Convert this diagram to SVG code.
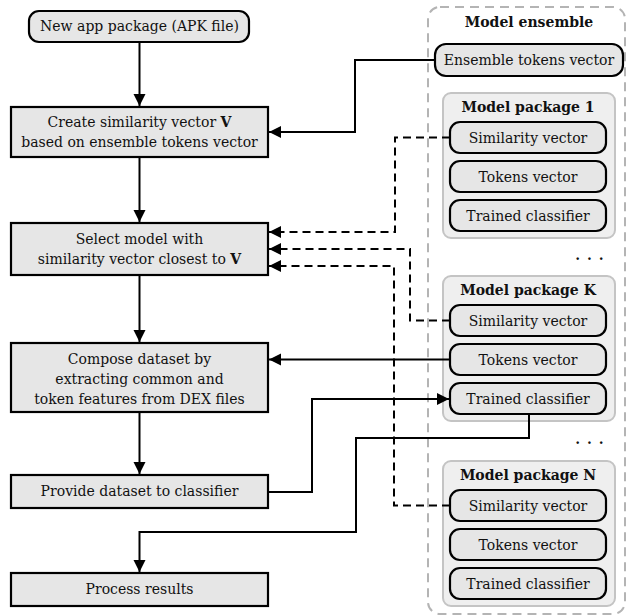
<svg xmlns="http://www.w3.org/2000/svg" width="627" height="616" viewBox="0 0 627 616">
<defs>
<marker id="ah" markerUnits="userSpaceOnUse" markerWidth="14" markerHeight="14" refX="12" refY="6" orient="auto">
<path d="M0,0 L12,6 L0,12 Z" fill="#000" stroke="none"/>
</marker>
<style>
.step{fill:#e6e6e6;stroke:#000;stroke-width:2.2}
.node{fill:#e6e6e6;stroke:#000;stroke-width:2.2}
.pkg{fill:#efefef;stroke:#c4c4c4;stroke-width:2}
.ens{fill:none;stroke:#b4b4b4;stroke-width:2;stroke-dasharray:9 6}
text{font-family:"DejaVu Serif","Liberation Serif",serif;font-size:14px;fill:#111;text-anchor:middle}
.b{font-weight:bold}
.c{fill:none;stroke:#000;stroke-width:2}
.d{fill:none;stroke:#000;stroke-width:2;stroke-dasharray:8 5}
.dots{font-size:14px;font-weight:bold;letter-spacing:1px}
</style>
</defs>
<rect width="627" height="616" fill="#fff"/>

<g id="ensemble">
<rect class="ens" x="428" y="7" width="197" height="607" rx="12"/>
<text class="b" x="529" y="27">Model ensemble</text>
</g>
<g id="ensemble-tokens">
<rect class="node" x="435" y="44" width="188" height="32" rx="11"/>
<text x="529" y="65">Ensemble tokens vector</text>
</g>

<g id="package-1">
<rect class="pkg" x="443" y="93" width="172" height="145" rx="8"/>
<text class="b" x="528" y="112">Model package 1</text>
<g id="p1-sim"><rect class="node" x="450" y="122" width="156" height="31" rx="10"/><text x="528" y="143">Similarity vector</text></g>
<g id="p1-tok"><rect class="node" x="450" y="161" width="156" height="31" rx="10"/><text x="528" y="182">Tokens vector</text></g>
<g id="p1-cls"><rect class="node" x="450" y="200" width="156" height="31" rx="10"/><text x="528" y="221">Trained classifier</text></g>
</g>
<text class="dots" x="590" y="260">. . .</text>

<g id="package-K">
<rect class="pkg" x="443" y="276" width="172" height="145" rx="8"/>
<text class="b" x="528" y="295">Model package K</text>
<g id="pK-sim"><rect class="node" x="450" y="305" width="156" height="31" rx="10"/><text x="528" y="326">Similarity vector</text></g>
<g id="pK-tok"><rect class="node" x="450" y="344" width="156" height="31" rx="10"/><text x="528" y="365">Tokens vector</text></g>
<g id="pK-cls"><rect class="node" x="450" y="383" width="156" height="31" rx="10"/><text x="528" y="404">Trained classifier</text></g>
</g>
<text class="dots" x="590" y="444">. . .</text>

<g id="package-N">
<rect class="pkg" x="443" y="461" width="172" height="145" rx="8"/>
<text class="b" x="528" y="480">Model package N</text>
<g id="pN-sim"><rect class="node" x="450" y="490" width="156" height="31" rx="10"/><text x="528" y="511">Similarity vector</text></g>
<g id="pN-tok"><rect class="node" x="450" y="529" width="156" height="31" rx="10"/><text x="528" y="550">Tokens vector</text></g>
<g id="pN-cls"><rect class="node" x="450" y="568" width="156" height="31" rx="10"/><text x="528" y="589">Trained classifier</text></g>
</g>

<g id="new-apk">
<rect class="node" x="29" y="11" width="220" height="31" rx="10"/>
<text x="139.5" y="31">New app package (APK file)</text>
</g>
<g id="create">
<rect class="step" x="11" y="107" width="257" height="50"/>
<text x="139.5" y="127">Create similarity vector <tspan class="b">V</tspan></text>
<text x="139.5" y="147">based on ensemble tokens vector</text>
</g>
<g id="select">
<rect class="step" x="11" y="223" width="257" height="52"/>
<text x="139.5" y="244">Select model with</text>
<text x="139.5" y="264">similarity vector closest to <tspan class="b">V</tspan></text>
</g>
<g id="compose">
<rect class="step" x="11" y="343" width="257" height="69"/>
<text x="139.5" y="364">Compose dataset by</text>
<text x="139.5" y="384">extracting common and</text>
<text x="139.5" y="404">token features from DEX files</text>
</g>
<g id="provide">
<rect class="step" x="11" y="475" width="257" height="33"/>
<text x="139.5" y="496">Provide dataset to classifier</text>
</g>
<g id="process">
<rect class="step" x="11" y="573" width="257" height="33"/>
<text x="139.5" y="594">Process results</text>
</g>

<g id="connectors">
<path class="c" d="M139.5,42 V106" marker-end="url(#ah)"/>
<path class="c" d="M139.5,157 V222" marker-end="url(#ah)"/>
<path class="c" d="M139.5,275 V342" marker-end="url(#ah)"/>
<path class="c" d="M139.5,412 V474" marker-end="url(#ah)"/>
<path class="c" d="M435,60 H355 V132 H269" marker-end="url(#ah)"/>
<path class="d" d="M450,137.5 H395 V232 H269" marker-end="url(#ah)"/>
<path class="d" d="M450,320.5 H410 V249 H269" marker-end="url(#ah)"/>
<path class="d" d="M450,505.5 H394 V266 H269" marker-end="url(#ah)"/>
<path class="c" d="M450,359.5 H269" marker-end="url(#ah)"/>
<path class="c" d="M268,492 H312 V399 H449" marker-end="url(#ah)"/>
<path class="c" d="M529,414 V438 H356 V532 H139.5 V572" marker-end="url(#ah)"/>
</g>
</svg>
